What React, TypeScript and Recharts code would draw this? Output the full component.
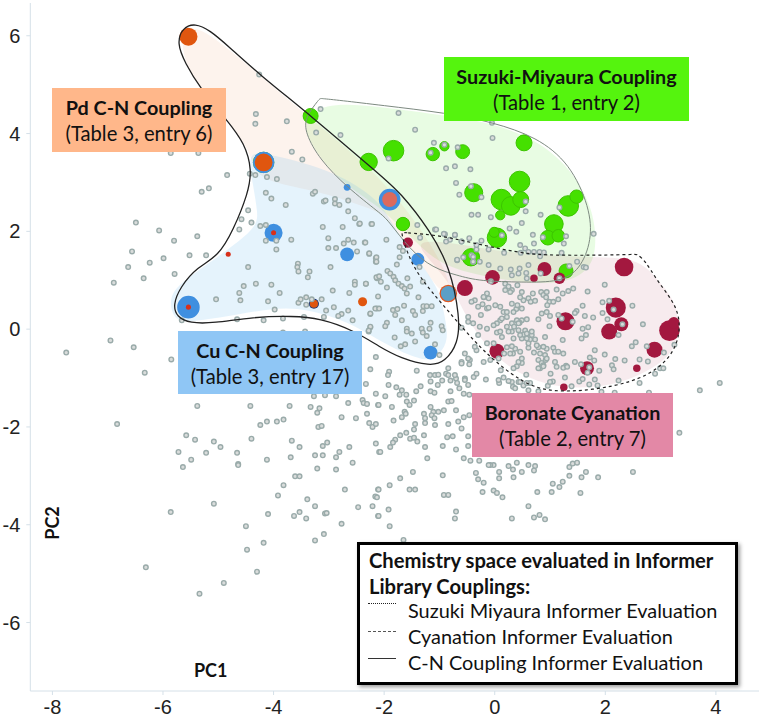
import React from "react";
import { ScatterChart, Scatter, XAxis, YAxis, ZAxis } from "recharts";

const xTicks = [-8, -6, -4, -2, 0, 2, 4];
const yTicks = [-6, -4, -2, 0, 2, 4, 6];

// grey library compounds as [PC1, PC2]
const greyUpperLeft = [
  [-4.26,5.21],[-4.32,4.4],[-4.33,4.2],[-3.76,4.25],[-3.67,3.63],[-3.48,3.47],[-3.15,4.5],[-3.23,4.02],[-2.79,3.97],
  [-5.86,3.6],[-5.36,3.6],[-4.84,3.15],[-4.43,3.18],[-4.33,3.15],[-4.12,3.11],[-3.94,3.07],[-5.3,2.81],[-5.17,2.88],
  [-4.14,2.79],[-4.04,2.67],[-3.78,2.54],[-3.29,2.77],[-3.25,2.81],[-3.09,2.61],[-3.06,2.63],[-2.89,2.66],[-2.89,2.57],
  [-2.81,2.54],[-2.65,2.63],[-2.65,2.41],[-2.53,2.27],[-2.45,2.15],[-2.23,2.15],[-4.46,2.43],[-4.58,2.25],[-4.4,2.18],
  [-4.62,2.04],[-4.24,2.11],[-4.14,2.13],[-6.49,2.18],[-6.07,2.02],[-5.8,1.81],[-5.38,1.9],[-6.56,1.59],[-5.99,1.45],
  [-6.24,1.36],[-6.63,1.27],[-6.35,1.04],[-6.89,0.95],[-5.79,1.13],[-5.52,1.51],[-5.22,1.51],[-4.14,1.81],[-3.95,1.81],
  [-3.68,1.83],[-3.95,1.63],[-4.46,1.27],[-3.11,2.09],[-2.75,2.09],[-3.01,1.86],[-2.65,1.83],[-2.73,1.75],[-2.55,1.77],
  [-2.35,1.77],[-3.01,1.66],[-2.87,1.66],[-2.49,1.59],[-2.27,1.54],[-3.56,1.34],[-3.57,1.27],[-3.55,1.18],[-3.35,1.18],
  [-3.38,1.06],[-2.97,1.27],[-2.15,1.45],[-2.15,1.38],[-2.13,1.04],[-2.53,0.97],[-2.53,0.91],[-2.33,0.93],[-4.54,0.88],
  [-4.32,0.93],[-4.04,0.91],[-4.62,0.74],[-3.89,0.74],[-5.04,0.61],[-4.6,0.59],[-4.1,0.57],[-3.98,0.4],[-3.55,0.54],
  [-3.51,0.61],[-3.41,0.65],[-3.41,0.5],[-3.31,0.61],[-3.13,0.61],[-2.93,0.79],[-2.63,0.74],[-2.11,0.67],[-2.91,0.45],
  [-3.05,0.38],[-2.65,0.38],[-2.77,0.31],[-2.83,0.27],[-2.25,0.31],[-2.13,0.42],[-3.09,0.25],[-2.57,0.18],[-2.25,0.04],
  [-2.28,-0.05],[-5.66,0.18],[-4.66,0.2],[-4.18,0.18],[-3.83,0.22],[-3.45,0.25],[-3.83,-0.07],[-3.43,-0.05],[-6.95,-0.23],[-6.53,-0.37],
];

const greyLowerLeft = [
  [-7.75,-0.48],[-5.85,-0.62],[-6.33,-0.89],[-2.15,-0.57],[-2.25,-0.82],[-2.33,-1.12],[-2.15,-1.32],[-3.27,-1.37],[-3.07,-1.35],
  [-2.87,-1.37],[-5.38,-1.57],[-4.42,-1.57],[-3.71,-1.57],[-3.33,-1.59],[-3.17,-1.62],[-3.21,-1.71],[-2.65,-1.51],[-2.39,-1.45],
  [-2.37,-1.51],[-2.31,-1.53],[-2.11,-1.55],[-2.31,-1.73],[-2.77,-1.8],[-2.51,-1.82],[-2.27,-1.92],[-2.21,-2],[-2.15,-1.94],
  [-6.83,-1.94],[-4.24,-1.96],[-4.12,-1.89],[-3.94,-1.89],[-3.82,-1.85],[-3.19,-2],[-3.13,-1.98],[-5.58,-2.17],[-5.42,-2.26],
  [-5.08,-2.3],[-4.96,-2.41],[-4.4,-2.24],[-3.67,-2.28],[-3.53,-2.41],[-3.11,-2.39],[-3.03,-2.32],[-2.15,-2.34],[-2.63,-2.41],
  [-2.81,-2.51],[-2.09,-2.51],[-5.72,-2.51],[-5.22,-2.53],[-4.66,-2.53],[-5.49,-2.67],[-5.64,-2.82],[-4.64,-2.76],[-4.64,-2.78],
  [-4.12,-2.67],[-3.69,-2.62],[-3.25,-2.58],[-3.11,-2.58],[-2.87,-2.62],[-2.57,-2.73],[-3.21,-2.85],[-2.87,-2.87],[-3.61,-3.01],
  [-3.53,-3.01],[-3.82,-3.19],[-2.71,-3.28],[-2.11,-3.28],[-3.92,-3.4],[-2.16,-3.42],[-2.13,-3.44],[-3.39,-3.48],[-5.08,-3.57],
  [-3.25,-3.62],[-2.47,-3.64],[-2.21,-3.62],[-5.86,-3.74],[-3.53,-3.74],[-4.1,-3.78],[-3.63,-3.82],[-3.41,-3.87],[-3.07,-3.77],
  [-3.04,-3.76],[-2.11,-3.82],[-4.5,-4.03],[-2.77,-3.98],[-3.09,-4.19],[-4.18,-4.37],[-3.25,-4.32],[-4.48,-4.51],[-6.31,-4.87],
  [-4.3,-4.96],[-4.9,-5.19],[-5.34,-5.41],
];

const greyLowerMiddle = [
  [-1.91,-0.87],[-1.93,-0.94],[-1.41,-0.85],[-1.17,-0.94],[-1.08,-0.94],[-1.02,-0.93],[-0.88,-0.91],[-0.7,-1.01],[-0.54,-1.01],
  [-0.38,-0.98],[-1.92,-1.14],[-1.78,-1.19],[-1.68,-1.25],[-1.72,-1.34],[-1.6,-1.34],[-1.34,-1.17],[-1.42,-1.27],[-1.16,-1.07],
  [-0.95,-1.05],[-1.03,-1.14],[-0.8,-1.05],[-0.68,-1.1],[-0.48,-1.14],[-0.64,-1.21],[-1.16,-1.27],[-1.09,-1.3],[-0.8,-1.27],
  [-0.56,-1.32],[-0.46,-1.34],[-1.98,-1.37],[-1.59,-1.48],[-1.54,-1.55],[-1.46,-1.46],[-0.84,-1.48],[-0.78,-1.47],[-2.1,-1.55],
  [-1.86,-1.59],[-1.16,-1.59],[-1.11,-1.69],[-1.02,-1.69],[-0.92,-1.66],[-0.7,-1.66],[-1.63,-1.69],[-1.61,-1.73],[-1.68,-1.8],
  [-1.28,-1.73],[-1.26,-1.82],[-1.14,-1.76],[-1.09,-1.82],[-1.83,-1.87],[-1.26,-1.92],[-1.08,-1.96],[-0.84,-1.94],[-0.66,-1.89],
  [-0.56,-1.8],[-0.46,-1.76],[-1.44,-1.94],[-1.46,-2.05],[-0.6,-2.03],[-1.6,-2.12],[-1.71,-2.17],[-1.28,-2.17],[-1.53,-2.24],
  [-1.46,-2.22],[-1.4,-2.3],[-1.8,-2.26],[-1.84,-2.32],[-0.86,-2.21],[-0.76,-2.19],[-0.48,-2.19],[-1.89,-2.41],[-1.26,-2.41],
  [-0.94,-2.39],[-0.48,-2.39],[-0.7,-2.46],[-2.07,-2.51],[-1.22,-2.64],[-0.56,-2.64],[-0.44,-2.69],[-0.28,-2.69],[-1.48,-2.92],
  [-0.34,-2.94],[-1.71,-3.05],[-0.94,-2.99],[-0.3,-3.07],[-1.9,-3.19],[-1.54,-3.28],[-1.44,-3.28],[-2.1,-3.28],[-0.92,-3.39],
  [-0.84,-3.39],[-1.92,-3.69],[-2.1,-3.82],[-1.9,-4.03],[-0.7,-3.73],[-0.72,-3.87],[-1.65,-4.31],
];

const greyLowerRight = [
  [3.34,-2.12],[2.5,-2.92],[1.87,-3.03],[1.65,-2.92],[1.57,-3.03],[1.35,-3],[1.35,-2.82],[1.41,-2.75],[1.49,-2.73],[1.23,-3.12],
  [1.17,-3.23],[1.05,-3.16],[1.03,-3.33],[1.55,-3.35],[0.77,-3.33],[0.61,-3.62],[0.81,-3.8],[0.71,-3.85],[0.91,-3.89],[0.31,-3.87],
  [0.73,-2.8],[0.61,-2.78],[0.71,-2.89],[0.49,-2.92],[0.4,-2.73],[0.25,-2.8],[0.33,-2.87],[0.34,-3.03],[0.08,-2.92],[0.08,-3.05],
  [-0.02,-2.78],[-0.08,-2.78],[-0.11,-2.78],[-0.2,-3.14],[-0.22,-3.33],[-0.02,-3.3],[0.04,-3.35],[0.14,-3.44],[3.71,-1.25],[4.07,-1.1],
];

const greyCentre = [
  [-2.44,2.16],[-2.22,2.15],[-1.96,1.83],[-2.34,1.77],[-2.14,1.47],[-2.27,1.55],[-2.14,1.38],[-1.72,1.68],[-1.66,1.6],[-1.72,1.47],
  [-1.77,1.32],[-1.94,1.19],[-1.89,1.14],[-1.83,1.07],[-2.14,1.06],[-2.09,1.08],[-2.06,0.97],[-1.95,0.85],[-2.33,0.93],[-1.8,1],
  [-1.74,0.93],[-1.68,0.88],[-1.63,0.83],[-1.58,1.04],[-1.53,0.87],[-1.38,0.65],[-1.59,0.73],[-1.36,1.27],[-1.3,0.97],[-2.16,0.42],
  [-2.09,0.42],[-2.25,0.32],[-1.84,0.39],[-1.76,0.41],[-1.64,0.48],[-1.8,0.29],[-1.68,0.18],[-1.48,0.37],[-1.29,0.47],[-1.23,0.47],
  [-1.14,0.47],[-1.3,0.37],[-1.44,0.29],[-1.95,0.13],[-1.98,0.06],[-2.25,0.05],[-2.28,-0.03],[-1.81,-0.17],[-1.59,0.01],[-1.59,-0.05],
  [-1.5,-0.09],[-1.32,0.01],[-1.16,0.13],[-1.18,0.01],[-1.3,-0.07],[-1.23,-0.14],[-0.96,0.06],[-0.94,-0.02],[-1.44,-0.25],[-1.62,-0.31],
  [-1.7,-0.35],[-1.08,-0.31],[-1,-0.53],[-1.4,2.13],[-1.35,1.87],[-1.08,2.04],[-0.72,1.92],[-0.9,1.94],[-0.81,1.83],[-0.68,1.41],
  [-0.57,1.47],[-0.33,1.63],[-0.6,1.79],[-0.42,1.51],[-0.39,1.38],
];

const greyGreenZone = [
  [-1.74,4.42],[-1.44,4.08],[-1.1,3.81],[-0.91,3.77],[-0.67,3.72],[-1.16,3.61],[-1.92,3.49],[-0.05,4.22],[-0.04,3.91],[-0.88,3.29],
  [-0.72,3.33],[-0.44,3.27],[-0.7,2.99],[-0.43,2.92],[-0.64,2.75],[-0.24,2.7],[0.56,2.61],[1.17,2.49],[0.56,2.41],[-0.42,2.34],
  [-0.3,2.34],[-0.07,2.29],[0.49,2.17],[0.83,2.34],[0.27,2.06],[0.39,1.99],[0.69,1.93],[-1.06,2.04],[-0.92,1.95],[-0.72,1.93],
  [-0.88,1.79],[-0.6,1.79],[-0.46,1.86],[-0.24,1.81],[0.13,1.92],[0.87,1.88],[1.29,1.9],[1.25,1.75],[1.79,1.95],[-0.33,1.72],
  [0.46,1.72],[0.55,1.65],[0.71,1.75],[0.61,1.58],[0.17,1.56],[-0.11,1.63],[0.47,1.56],[0.71,1.58],[0.81,1.58],[0.89,1.57],
  [0.82,1.49],[1.21,1.56],[-0.39,1.48],[-0.39,1.38],[-0.68,1.42],[-0.27,1.38],[-0.11,1.31],[0.29,1.22],[0.45,1.24],[0.1,1.24],
  [0.57,1.15],[0.61,1.31],[1.49,1.38],[1.61,1.27],[1.65,1.26],[1.35,1.29],[0.83,1.14],[-0.07,0.98],[1.17,1.04],
];

const greyRedZone = [
  [1.99,0.91],[1.68,0.77],[2.07,0.58],[1.95,0.55],[2.49,0.48],[2.15,0.4],[1.59,0.48],[1.48,0.37],[1.45,0.33],[1.15,0.29],[1.21,0.22],
  [1.41,0.15],[1.63,0.27],[1.78,0.24],[1.95,0.33],[2.04,0.2],[2.31,0.1],[2.68,0.1],[0.99,0.06],[1.59,0.01],[1.69,0.04],[1.65,-0.12],
  [1.57,-0.19],[2.24,-0.12],[0.91,-0.16],[1.23,-0.22],[1.06,-0.38],[0.94,-0.4],[0.79,-0.37],[1.81,-0.43],[1.09,-0.46],[1.15,-0.46],
  [1.24,-0.5],[1.99,-0.52],[2.55,-0.27],[2.48,-0.35],[2.75,-0.35],[3.25,-0.32],[3.06,-0.48],[2.18,-0.61],[2.35,-0.64],[2.62,-0.62],
  [2.77,-0.66],[2.12,-0.74],[2.15,-0.82],[1.89,-0.85],[1.45,-0.67],[1.56,-0.72],[1.72,-0.58],[1.8,-0.64],[1.71,-0.78],[1.68,-0.89],
  [1.29,-0.75],[1.09,-0.67],[1.12,-0.77],[1.24,-0.79],[1.31,-0.77],[1.01,-0.91],[1.05,-1.07],[1.27,-0.99],[0.96,-1.16],[1.53,-1.07],
  [1.59,-1.02],[1.81,-1.03],[1.71,-1.13],[1.86,-1.15],[1.39,-1.17],[2.24,-1.05],[2.62,-1.1],[2.9,-0.91],[2.99,-0.8],[3.05,-0.8],
  [1.93,-1.28],[2.17,-1.3],[2.79,-1.3],[0.61,-1.25],[0.79,-1.27],[0.57,-0.93],[0.64,-1.1],[0.43,-1.08],[0.31,-1.08],[0.33,-1.18],
  [0.49,-0.69],[0.4,-0.76],[0.34,-0.8],[0.88,-0.36],[0.79,-0.63],[0.91,-0.53],[0.85,-0.69],[0.88,-0.74],[0.82,-0.8],[0.92,-0.63],
  [0.71,-0.48],[0.61,-0.38],[0.46,-0.46],[0.37,-0.4],[0.31,-0.35],[0.33,-0.5],[0.73,-0.21],[0.64,-0.21],[0.58,-0.19],[0.49,-0.19],
  [0.67,-0.12],[0.55,-0.03],[0.52,-0.11],[0.43,-0.02],[0.58,0.2],[0.49,0.18],[0.45,0.13],[0.37,0.12],[0.31,-0.05],[0.79,0.2],
  [0.85,0.32],[0.94,0.35],[1,0.27],[0.49,0.42],[0.39,0.41],[0.34,0.35],[0.41,0.49],[0.31,0.52],[0.52,0.59],[0.46,0.65],[0.49,0.76],
  [0.61,0.63],[0.65,0.56],[0.73,0.58],[0.84,0.76],[0.88,0.7],[0.93,0.65],[0.99,0.56],[0.95,0.49],[1.06,0.56],[1.15,0.61],[1.23,0.73],
  [1.33,0.78],[1.42,0.83],[0.94,0.76],[1.12,0.81],[0.31,0.8],[0.41,0.9],[0.69,0.73],[0.43,1.14],[0.31,1.1],[0.58,1.04],
];

const greyRedZoneLeft = [
  [0.19,0.93],[0.25,0.87],[0.19,0.8],[0.28,0.76],[-0.14,0.73],[-0.2,0.65],[-0.11,0.63],[-0.36,0.59],[-0.3,0.46],[-0.14,0.42],[0.01,0.49],
  [0.16,0.35],[0.22,0.25],[0.1,0.18],[0.04,0.12],[0.4,0.18],[0.31,0.12],[0.43,0.12],[-0.48,0.25],[-0.39,0.12],[-0.27,0.05],[0.22,0.05],
  [0.04,-0.07],[0.13,-0.16],[0.34,-0.19],[0.46,-0.12],[0.58,-0.09],[0.67,-0.05],[-0.02,-0.29],[-0.14,-0.29],[0.61,-0.29],[0.76,-0.33],
  [0.82,-0.5],[0.22,-0.37],[0.28,-0.5],[0.17,-0.5],[0.07,-0.6],[-0.08,-0.63],[-0.2,-0.67],[-0.33,-0.43],[-0.54,-0.5],[-0.45,-0.63],
  [-0.6,-0.67],[-0.46,-0.72],[-0.33,-0.91],[-0.16,-1.03],[0.11,-0.84],[0.08,-1.1],[0.25,-1.06],[0.16,-0.99],[0.43,-0.67],[0.49,-0.6],
  [0.88,-0.76],[0.94,-0.6],[0.79,-0.8],[1,-1.08],[0.07,-1.04],[0.52,-1.15],[0.46,-1.08],[0.37,-1.21],[0.58,-1.1],[-0.84,-0.8],
  [-0.84,-0.94],[-0.72,-0.94],[-0.54,-1.04],[-0.48,-0.6],[-0.42,0.56],[-0.22,0.51],[-0.11,0.44],[-0.2,0.66],[-0.25,0.29],[-0.48,0.15],
  [-0.6,0.03],[0.1,0.46],[0.22,0.35],[0.13,0.22],[0.35,0.05],[0.25,-0.05],[0.1,-0.05],[-0.02,0.08],[-0.14,0.01],[-0.3,-0.12],[-0.36,-0.36],[-0.6,-0.7],
];

// informer hits as [PC1, PC2, size]
const suzukiHits = [
  [-3.33,4.36,44],[-2.28,3.42,59],[-1.66,2.15,35],[-1.83,3.65,83],[-1.12,3.58,35],[-0.91,3.74,17],[-0.58,3.63,38],[0.53,3.81,50],
  [0.45,3.02,83],[-0.38,2.79,64],[0.12,2.65,83],[0.29,2.52,68],[0.47,2.65,50],[1.33,2.52,83],[1.48,2.71,35],[0.1,2.33,17],
  [1.07,2.15,68],[0.96,1.87,42],[1.15,1.91,31],[0.04,1.87,74],[-0.01,1.98,20],[-0.43,1.47,59],[1.29,1.19,38],[-4.18,3.41,82],
];
const cyanationHits = [
  [2.34,1.27,68],[-0.54,0.84,50],[-0.04,1.06,42],[0.9,1.23,38],[0.71,1.04,11],[1.17,1.04,26],[-1.57,1.77,20],[2.19,0.44,79],
  [1.28,0.16,64],[2.29,0.1,38],[2.07,-0.05,50],[3.16,-0.03,83],[3.24,0.13,26],[2.89,-0.42,50],[0.04,-0.45,44],[1.67,-0.8,38],
  [2.57,-0.8,11],[1.25,-1.19,11],
];
const pdBehindCu = [[-0.84,0.73,60]];
const cuHits = [
  [-5.54,0.45,100],[-4,1.97,64],[-2.67,1.53,38],[-2.67,2.9,9],[-1.39,1.43,33],[-1.16,-0.48,38],[-4.18,3.41,90],[-1.9,2.65,92],
];
const cuDarkHits = [[-3.27,0.52,20]];
const cuMutedHits = [[-0.84,0.73,44]];
const pdHits = [[-5.54,5.98,64],[-4.18,3.41,62],[-3.27,0.52,13],[-2.39,0.56,16]];
const pdMutedHits = [[-1.9,2.65,44]];
const pdSmallHits = [[-5.54,0.45,5],[-4,1.97,5],[-4.82,1.53,5]];

// shaded regions
const suzukiFill = [
  [-3.16,4.64],[-2.07,4.56],[-0.86,4.36],[-0.03,4.21],[0.76,3.87],[1.36,3.31],[1.78,2.49],[1.85,1.68],[1.72,1.21],[1.24,0.9],
  [0.22,0.98],[-0.93,1.25],[-1.4,1.76],[-1.84,2.23],[-2.07,2.49],[-2.92,3.11],[-3.4,3.93],[-3.43,4.21],
];
const cyanationFill = [
  [-1.53,1.88],[-0.39,1.7],[0.4,1.53],[1.85,1.47],[2.63,1.45],[2.99,0.94],[3.3,0.53],[3.35,-0.16],[3.12,-0.63],[2.57,-0.98],
  [1.96,-1.19],[1.24,-1.21],[0.64,-1.04],[-0.03,-0.57],[-0.57,0.33],[-0.72,0.8],[-1.17,1.41],
];
const pdFill = [
  [-5.69,6.07],[-5.42,6.22],[-4.88,5.81],[-3.34,4.31],[-2.07,3.15],[-1.17,1.82],[-0.72,0.8],[-0.99,0.7],[-1.35,1.41],[-1.98,2.35],
  [-2.31,2.49],[-3.21,2.84],[-4.37,3.05],[-4.37,3.6],[-4.88,4.31],[-5.33,4.93],[-5.6,5.4],
];
const cuFill = [
  [-4.48,3.66],[-4.01,3.56],[-2.92,3.25],[-2.07,2.64],[-1.84,2.09],[-1.39,1.45],[-1.13,1],[-0.99,0.74],[-0.86,0.04],[-0.86,-0.29],
  [-1.04,-0.57],[-1.26,-0.67],[-1.89,-0.37],[-2.38,-0.02],[-2.98,0.29],[-3.76,0.49],[-4.66,0.29],[-5.51,0.14],[-5.82,0.18],
  [-5.91,0.7],[-5.56,1.06],[-4.3,2.02],[-4.28,2.37],[-4.39,3.05],
];

// hand-drawn outlines, corners repeated so they stay sharp
const suzukiOutline = [
  [-3.16,4.72],[-3.16,4.72],[-3.43,4.34],[-3.43,4.01],[-3.16,3.46],[-2.67,2.9],[-2.07,2.37],[-1.93,2.23],[-1.53,1.62],[-1.12,1.25],[-0.68,1.1],
  [-0.27,0.98],[0.51,0.96],[1.18,0.96],[1.54,1.21],[1.76,1.82],[1.72,2.49],[1.36,3.39],[0.76,3.93],[-0.03,4.23],[-0.86,4.42],
  [-2.07,4.58],[-2.8,4.68],
];
const cyanationOutline = [
  [-1.68,1.98],[-1.68,1.98],[-0.99,1.92],[-0.39,1.76],[0.4,1.57],[0.87,1.51],[1.85,1.51],[2.57,1.53],[2.57,1.53],[2.72,1.41],[2.93,1],[3.22,0.59],
  [3.37,0.18],[3.3,-0.37],[2.99,-0.8],[2.5,-1.08],[1.78,-1.25],[1,-1.29],[0.51,-1.1],[-0.03,-0.63],[-0.39,-0.22],[-0.75,0.25],
  [-1.17,0.8],[-1.48,1.27],[-1.66,1.82],
];
const cnOutline = [
  [-5.42,6.26],[-5.15,6.11],[-4.84,5.81],[-4.24,5.19],[-3.34,4.38],[-2.07,3.15],[-1.71,2.8],[-1.17,2.02],[-0.81,1.27],[-0.63,0.25],
  [-0.66,-0.29],[-0.9,-0.67],[-1.17,-0.76],[-1.71,-0.59],[-2.07,-0.37],[-2.56,-0.02],[-3.16,0.22],[-3.65,0.27],[-4.37,0.25],
  [-5.09,0.12],[-5.51,0.12],[-5.75,0.25],[-5.82,0.49],[-5.69,0.86],[-5.38,1.27],[-5,1.49],[-4.73,2.02],[-4.46,2.78],[-4.39,3.25],
  [-4.52,3.8],[-4.84,4.27],[-5.33,4.93],[-5.6,5.44],[-5.75,5.85],[-5.65,6.16],
];

const toRows = (pts: number[][]) => pts.map(([x, y, z]) => ({ x, y, z }));
const noMark = () => <g />;
const greyDot = (p: any) => (
  <circle cx={p.cx} cy={p.cy} r={2.3} fill="#d9dcdb" stroke="#9aabaa" strokeWidth={1.4} />
);

const region = (pts: number[][], fill: string, stroke = "none", dash?: string, width = 1) => (
  <Scatter
    data={toRows(pts)}
    shape={noMark}
    line={{ fill, stroke, strokeDasharray: dash, strokeWidth: width }}
    lineType="joint"
    lineJointType="basisClosed"
    isAnimationActive={false}
  />
);

const hits = (pts: number[][], color: string, stroke?: string) => (
  <Scatter data={toRows(pts)} fill={color} stroke={stroke} isAnimationActive={false} />
);

const box = (left: number, top: number, width: number, height: number, background: string, title: string, sub: string) => (
  <div
    style={{
      position: "absolute", left, top, width, height, background, textAlign: "center",
      fontFamily: "Lato, sans-serif", color: "#111", fontSize: 19.8, lineHeight: "26px",
      display: "flex", flexDirection: "column", justifyContent: "center",
    }}
  >
    <div style={{ fontWeight: 700 }}>{title}</div>
    <div style={{ fontSize: 20.2 }}>{sub}</div>
  </div>
);

const legendRow = (top: number, lineTop: number, text: string, border: string) => (
  <>
    <div style={{ position: "absolute", left: 8, top: lineTop, width: 28, borderTop: border }} />
    <div style={{ position: "absolute", left: 48, top, whiteSpace: "nowrap" }}>{text}</div>
  </>
);

export default function App() {
  const grey = [
    ...greyUpperLeft, ...greyLowerLeft, ...greyLowerMiddle, ...greyLowerRight,
    ...greyCentre, ...greyGreenZone, ...greyRedZone, ...greyRedZoneLeft,
  ];
  return (
    <div style={{ position: "absolute", left: 0, top: 0, width: 759, height: 718, background: "#fff", overflow: "hidden" }}>
      <ScatterChart width={759} height={718} margin={{ top: 3, right: 0, bottom: 0, left: 0 }}>
        <XAxis
          type="number"
          dataKey="x"
          domain={[-8.4, 4.78]}
          ticks={xTicks}
          stroke="#d5e0e8"
          tickSize={4}
          tickMargin={5}
          tick={{ fill: "#222", fontSize: 20, fontFamily: "Liberation Sans" }}
          height={27}
          allowDataOverflow
          label={{ value: "PC1", position: "center", dx: -184, dy: -34, fontFamily: "Lato", fontWeight: 700, fontSize: 18, fill: "#111" }}
        />
        <YAxis
          type="number"
          dataKey="y"
          domain={[-7.4, 6.67]}
          ticks={yTicks}
          stroke="#d5e0e8"
          tickSize={4}
          tickMargin={6}
          width={30.3}
          tick={{ fill: "#222", fontSize: 20, fontFamily: "Liberation Sans" }}
          allowDataOverflow
          label={{ value: "PC2", position: "center", angle: -90, dx: 37, dy: 176, fontFamily: "Lato", fontWeight: 700, fontSize: 18, fill: "#111" }}
        />
        <ZAxis type="number" dataKey="z" domain={[0, 100]} range={[0, 400]} />
        {region(suzukiFill, "rgba(120,235,90,0.17)")}
        {region(cyanationFill, "rgba(175,60,90,0.1)")}
        {region(pdFill, "rgba(240,150,90,0.11)")}
        {region(cuFill, "rgba(110,190,240,0.18)")}
        {hits(suzukiHits, "#45e000", "#3cc400")}
        {hits(cyanationHits, "#a3183f")}
        {hits(pdBehindCu, "#e0561f")}
        {hits(cuHits, "#3f8fe0")}
        {hits(cuDarkHits, "#1d3a7a")}
        {hits(cuMutedHits, "#5b9fc7")}
        {hits(pdHits, "#e0560f")}
        {hits(pdMutedHits, "#dc6a5c")}
        {hits(pdSmallHits, "#d8301a")}
        <Scatter data={toRows(grey)} shape={greyDot} isAnimationActive={false} />
        {region(suzukiOutline, "none", "#7d8a80", undefined, 1)}
        {region(cyanationOutline, "none", "#222", "3 3", 1.2)}
        {region(cnOutline, "none", "#222", undefined, 1.3)}
      </ScatterChart>

      {box(52, 88, 174, 64, "#ffb78a", "Pd C-N Coupling", "(Table 3, entry 6)")}
      {box(444, 57, 245, 64, "#55f40e", "Suzuki-Miyaura Coupling", "(Table 1, entry 2)")}
      {box(178, 331, 184, 63, "#8fc6f5", "Cu C-N Coupling", "(Table 3, entry 17)")}
      {box(472, 393, 201, 64, "#e388a6", "Boronate Cyanation", "(Table 2, entry 7)")}

      <div
        style={{
          position: "absolute", left: 357, top: 542, width: 375, height: 137, background: "#fff",
          border: "3px solid #000", boxShadow: "2px 2px 4px rgba(0,0,0,0.4)",
          fontFamily: "Lato, sans-serif", fontSize: 19.9, lineHeight: "26px", color: "#111",
        }}
      >
        <div style={{ position: "absolute", left: 9, top: 2, fontWeight: 700, fontSize: 20.2, whiteSpace: "nowrap" }}>
          Chemistry space evaluated in Informer
          <br />
          Library Couplings:
        </div>
        {legendRow(52, 58, "Suzuki Miyaura Informer Evaluation", "1.5px dotted #222")}
        {legendRow(78, 86, "Cyanation Informer Evaluation", "1.5px dashed #555")}
        {legendRow(104, 113, "C-N Coupling Informer Evaluation", "1.5px solid #333")}
      </div>
    </div>
  );
}
